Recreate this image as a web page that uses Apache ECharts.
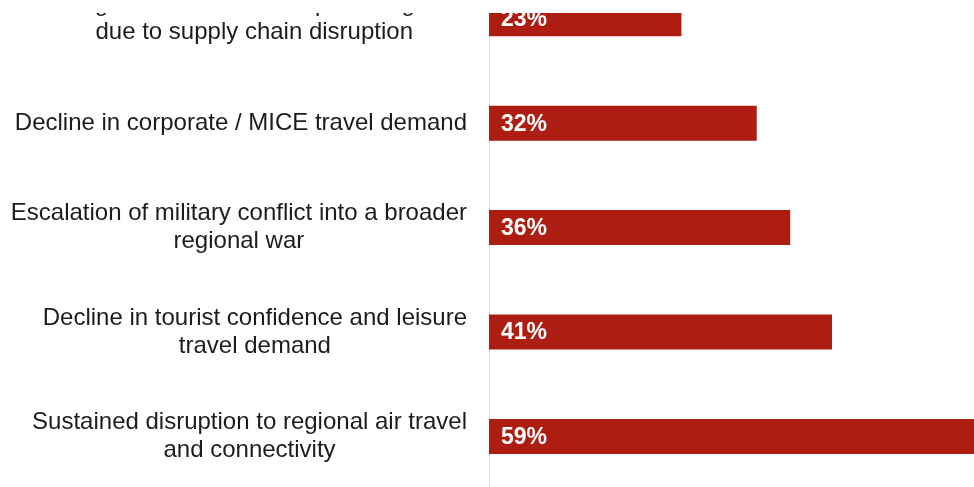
<!DOCTYPE html>
<html>
<head>
<meta charset="utf-8">
<title>Risks to the regional travel and tourism sector</title>
<script src="https://cdn.jsdelivr.net/npm/echarts@6/dist/echarts.min.js"></script>
<style>
  html, body { margin: 0; padding: 0; background: #ffffff; }
  #chart { width: 974px; height: 487px; }
</style>
</head>
<body>
<div id="chart"></div>
<script>
// Risk statements, listed top to bottom
const categories = [
  'Rising costs and fewer imports of goods\ndue to supply chain disruption',
  'Decline in corporate / MICE travel demand',
  'Escalation of military conflict into a broader\nregional war',
  'Decline in tourist confidence and leisure\ntravel demand',
  'Sustained disruption to regional air travel\nand connectivity'
];

// Share of respondents citing each risk (%)
const shares = [23, 32, 36, 41, 59];

const FONT = '"Liberation Sans", Arial, sans-serif';
const BAR_RED = '#ad1d12';
const TEXT_DARK = '#1c1c1c';

const chart = echarts.init(document.getElementById('chart'), null, { renderer: 'canvas' });

chart.setOption({
  backgroundColor: '#ffffff',
  animation: false,
  grid: {
    left: 489,
    top: -33.4,
    width: 502,
    height: 522,
    containLabel: false,
    outerBoundsMode: 'none'
  },
  xAxis: {
    type: 'value',
    min: 0,
    max: 60,
    show: false,
    splitLine: { show: false }
  },
  yAxis: {
    type: 'category',
    inverse: true,
    data: categories,
    axisTick: { show: false },
    axisLine: { show: true, lineStyle: { color: '#d9d9d9', width: 1 } },
    axisLabel: {
      interval: 0,
      align: 'right',
      margin: 22,
      formatter: function (v) {
        return v.split('\n').map(function (l) { return '{c|' + l + '}'; }).join('\n');
      },
      rich: {
        c: {
          align: 'center',
          fontFamily: FONT,
          fontSize: 24,
          lineHeight: 28,
          color: TEXT_DARK
        }
      }
    }
  },
  series: [{
    type: 'bar',
    data: shares,
    barWidth: 35,
    itemStyle: { color: BAR_RED },
    label: {
      show: true,
      position: 'insideLeft',
      distance: 12,
      offset: [0, 1],
      formatter: '{c}%',
      color: '#ffffff',
      fontFamily: FONT,
      fontWeight: 'bold',
      fontSize: 23
    }
  }],
  graphic: [{
    type: 'rect',
    z: 100,
    shape: { x: 0, y: 0, width: 974, height: 13 },
    style: { fill: '#ffffff' }
  }]
});
</script>
</body>
</html>
